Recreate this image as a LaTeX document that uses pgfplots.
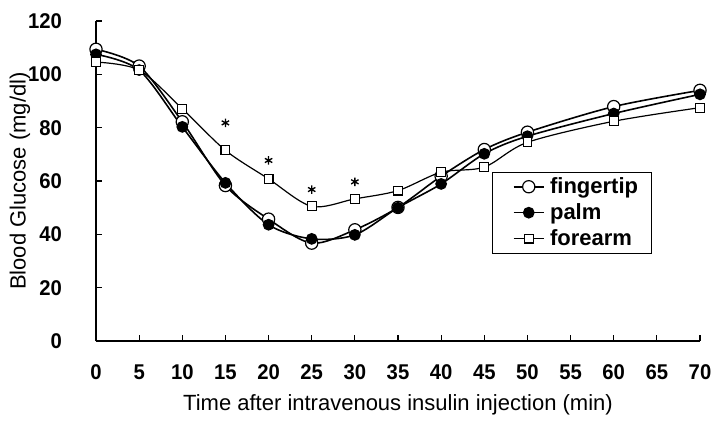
\documentclass[border=0pt]{standalone}
\usepackage{fontspec}
\setmainfont{Liberation Sans}
\newfontfamily\narrowfont[FakeStretch=0.95]{Liberation Sans}
\usepackage{pgfplots}
\pgfplotsset{compat=1.18}

\begin{document}
\begin{tikzpicture}
\path[use as bounding box] (-72pt,-60pt) rectangle (462.75pt,255.75pt);
\begin{axis}[
  scale only axis, width=453pt, height=240pt,
  xmin=0, xmax=70, ymin=0, ymax=120,
  axis lines*=left,
  axis line style={-, line width=0.8pt},
  xtick={0,5,...,70}, ytick={0,20,...,120},
  tick align=inside, major tick length=4.5pt,
  tick style={black, line width=0.8pt},
  /pgf/number format/assume math mode=true,
  tick label style={font=\fontsize{16}{16}\selectfont\narrowfont\bfseries},
  xticklabel style={yshift=-14pt},
  yticklabel style={anchor=east, xshift=-22pt},
  every axis x label/.style={at={(axis description cs:0.5,-0.2)}, anchor=center, font=\fontsize{16.5}{16.5}\selectfont},
  every axis y label/.style={at={(axis description cs:-0.126,0.5)}, anchor=center, rotate=90, font=\fontsize{16.5}{16.5}\selectfont},
  xlabel={Time after intravenous insulin injection (min)},
  ylabel={Blood Glucose (mg/dl)},
  legend style={at={(axis description cs:0.656,0.528)}, anchor=north west,
    draw=black, line width=0.6pt, font=\fontsize{16.5}{16.5}\selectfont\bfseries,
    row sep=2pt, inner xsep=8pt, inner ysep=2pt,
    /tikz/every odd column/.append style={column sep=2pt}},
  legend cell align=left,
  legend image code/.code={\path (0cm,0cm);\draw[mark repeat=2, mark phase=2] plot coordinates {(0.25cm,0cm) (0.65cm,0cm) (1.05cm,0cm)};},
  every axis plot/.append style={black, line width=1.2pt, smooth, tension=0.5},
]
% fingertip
\addplot[mark=*, mark options={fill=white, line width=0.9pt}, mark size=4.6pt] coordinates {
  (0,109.4) (5,103.1) (10,82.2) (15,58.3) (20,45.7) (25,36.7) (30,41.7)
  (35,50.1) (40,61.8) (45,71.8) (50,78.3) (60,87.9) (70,94.0)};
% palm
\addplot[mark=*, mark options={fill=black}, mark size=3.8pt] coordinates {
  (0,107.5) (5,101.6) (10,80.3) (15,59.3) (20,43.6) (25,38.3) (30,39.8)
  (35,50.0) (40,58.9) (45,70.2) (50,76.8) (60,85.3) (70,92.5)};
% forearm
\addplot[line width=0.9pt, mark=square*, mark options={fill=white, line width=0.8pt}, mark size=3.3pt] coordinates {
  (0,104.6) (5,101.6) (10,87.1) (15,71.5) (20,60.8) (25,50.5) (30,53.3)
  (35,56.4) (40,63.3) (45,65.2) (50,74.5) (60,82.4) (70,87.5)};
% significance markers
\addplot[forget plot, only marks, mark=asterisk, mark size=3.2pt, line width=1pt] coordinates {
  (15,81.8) (20,67.7) (25,56.8) (30,59.7)};
\legend{fingertip, palm, forearm}
\end{axis}
\end{tikzpicture}
\end{document}
